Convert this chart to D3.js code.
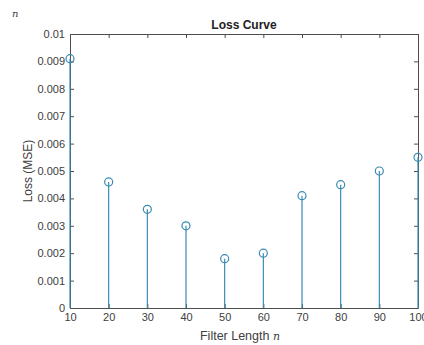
<!DOCTYPE html>
<html>
<head>
<meta charset="utf-8">
<script src="https://cdn.jsdelivr.net/npm/d3@7"></script>
<style>
  body { margin: 0; background: #fff; }
  svg { display: block; font-family: "Liberation Sans", Arial, sans-serif; }
</style>
</head>
<body>
<div id="chart"></div>
<script>
// filter lengths and the MSE
const filterLengths = [10, 20, 30, 40, 50, 60, 70, 80, 90, 100];
const lossValues = [0.0091, 0.0046, 0.0036, 0.0030, 0.0018, 0.0020, 0.0041, 0.0045, 0.0050, 0.0055];
const xTicks = [10, 20, 30, 40, 50, 60, 70, 80, 90, 100];
const yTicks = [0, 0.001, 0.002, 0.003, 0.004, 0.005, 0.006, 0.007, 0.008, 0.009, 0.01];

const width = 424, height = 345;
const margin = { top: 34, right: 6, bottom: 37, left: 70 };
const stemColor = '#3a8bb3';
const axisColor = '#4d4d4d';

const svg = d3.select('#chart')
  .append('svg')
  .attr('width', width)
  .attr('height', height);

const x = d3.scaleLinear()
  .domain([10, 100])
  .range([margin.left, width - margin.right]);

const y = d3.scaleLinear()
  .domain([0, 0.01])
  .range([height - margin.bottom, margin.top]);

const fmt = d => d === 0 ? '0' : d3.format('.3~f')(d);

// axes (ticks inward, box on all four sides)
const axBottom = svg.append('g')
  .attr('transform', `translate(0,${y(0)})`)
  .call(d3.axisBottom(x).tickValues(xTicks).tickSizeInner(-4).tickSizeOuter(0).tickPadding(5));
const axTop = svg.append('g')
  .attr('transform', `translate(0,${y(0.01)})`)
  .call(d3.axisTop(x).tickValues(xTicks).tickSizeInner(-4).tickSizeOuter(0).tickFormat(''));
const axLeft = svg.append('g')
  .attr('transform', `translate(${x(10)},0)`)
  .call(d3.axisLeft(y).tickValues(yTicks).tickSizeInner(-4).tickSizeOuter(0).tickFormat(fmt).tickPadding(5));
const axRight = svg.append('g')
  .attr('transform', `translate(${x(100)},0)`)
  .call(d3.axisRight(y).tickValues(yTicks).tickSizeInner(-4).tickSizeOuter(0).tickFormat(''));

[axBottom, axTop, axLeft, axRight].forEach(a => {
  a.select('.domain').attr('stroke', axisColor).attr('stroke-width', 1);
  a.selectAll('.tick line').attr('stroke', axisColor);
  a.selectAll('.tick text')
    .attr('fill', '#404040')
    .style('font-size', '11px')
    .style('font-family', '"Liberation Sans", Arial, sans-serif');
});

// stems
svg.append('g')
  .selectAll('line')
  .data(filterLengths)
  .enter()
  .append('line')
  .attr('x1', d => x(d))
  .attr('x2', d => x(d))
  .attr('y1', y(0))
  .attr('y2', (d, i) => y(lossValues[i]))
  .attr('stroke', stemColor)
  .attr('stroke-width', 1.2);

svg.append('g')
  .selectAll('circle')
  .data(filterLengths)
  .enter()
  .append('circle')
  .attr('cx', d => x(d))
  .attr('cy', (d, i) => y(lossValues[i]))
  .attr('r', 4)
  .attr('fill', 'none')
  .attr('stroke', stemColor)
  .attr('stroke-width', 1.2);

// title and labels
svg.append('text')
  .attr('x', (x(10) + x(100)) / 2)
  .attr('y', 29)
  .attr('text-anchor', 'middle')
  .style('font-weight', 'bold')
  .style('font-size', '12px')
  .attr('fill', '#222')
  .text('Loss Curve');

const xl = svg.append('text')
  .attr('x', (x(10) + x(100)) / 2 - 4)
  .attr('y', 340)
  .attr('text-anchor', 'middle')
  .style('font-size', '12.5px')
  .attr('fill', '#404040');
xl.append('tspan').text('Filter Length ');
xl.append('tspan').style('font-family', '"DejaVu Serif", serif').style('font-style', 'italic').style('font-size', '11px').text('n');

svg.append('text')
  .attr('transform', `translate(32,${(y(0) + y(0.01)) / 2}) rotate(-90)`)
  .attr('text-anchor', 'middle')
  .style('font-size', '12px')
  .attr('fill', '#404040')
  .text('Loss (MSE)');

svg.append('text')
  .attr('x', 12)
  .attr('y', 17)
  .style('font-family', '"DejaVu Serif", serif')
  .style('font-style', 'italic')
  .style('font-size', '10px')
  .attr('fill', '#404040')
  .text('n');
</script>
</body>
</html>
